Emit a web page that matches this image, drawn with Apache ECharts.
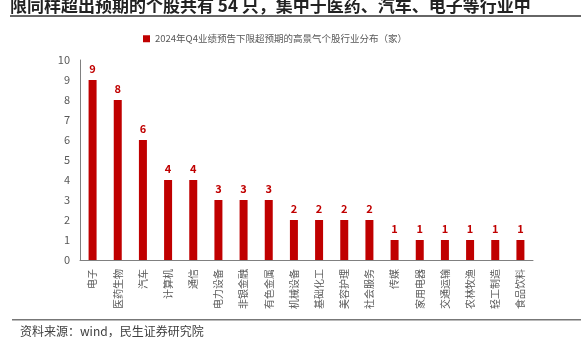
<!DOCTYPE html>
<html><head><meta charset="utf-8">
<script src="https://cdn.jsdelivr.net/npm/echarts@6/dist/echarts.min.js"></script>
<style>html,body{margin:0;padding:0;background:#fff}#c{width:581px;height:356px}</style>
</head><body><div id="c"></div>
<script>
const categories = ['电子','医药生物','汽车','计算机','通信','电力设备','非银金融','有色金属','机械设备','基础化工','美容护理','社会服务','传媒','家用电器','交通运输','农林牧渔','轻工制造','食品饮料'];
const values = [9,8,6,4,4,3,3,3,2,2,2,2,1,1,1,1,1,1];
const yTicks = [0,1,2,3,4,5,6,7,8,9,10];
const seriesName = '2024年Q4业绩预告下限超预期的高景气个股行业分布（家）';
const titleText = '限同样超出预期的个股共有 54 只，集中于医药、汽车、电子等行业中';
const sourceText = '资料来源：wind，民生证券研究院';
const font = '"Noto Sans CJK SC", "Noto Sans", sans-serif';
const chart = echarts.init(document.getElementById('c'));
chart.setOption({
  animation:false,
  textStyle:{fontFamily:font},
  legend:{top:29,left:138,itemWidth:7,itemHeight:7,itemGap:3,
    textStyle:{fontSize:9.5,color:'#595959',fontFamily:font},
    data:[{name:seriesName,icon:'rect'}]},
  grid:{left:80,right:48,top:60,bottom:96,containLabel:false},
  xAxis:{type:'category',data:categories,
    axisLine:{lineStyle:{color:'#808080',width:1}},axisTick:{show:false},
    axisLabel:{interval:0,rotate:90,fontSize:10,color:'#595959',margin:9,
      padding:[0,0,0,0]}},
  yAxis:{type:'value',min:yTicks[0],max:yTicks[yTicks.length-1],interval:1,
    axisLine:{show:true,lineStyle:{color:'#808080',width:1}},axisTick:{show:false},
    splitLine:{show:false},
    axisLabel:{fontSize:11,color:'#595959',margin:10}},
  series:[{name:seriesName,type:'bar',data:values,barWidth:8,
    itemStyle:{color:'#C00000'},
    label:{show:true,position:'top',distance:6,color:'#C00000',fontWeight:'bold',fontSize:11}}],
  graphic:[
    {type:'text',left:10,top:-3,style:{text:titleText,font:'bold 17px '+font,fill:'#222'}},
    {type:'rect',shape:{x:10,y:15,width:571,height:2},style:{fill:'#666'}},
    {type:'rect',shape:{x:12,y:319,width:569,height:1.5},style:{fill:'#777'}},
    {type:'text',left:20,top:325,style:{text:sourceText,font:'12px '+font,fill:'#404040'}}
  ]
});
</script></body></html>
